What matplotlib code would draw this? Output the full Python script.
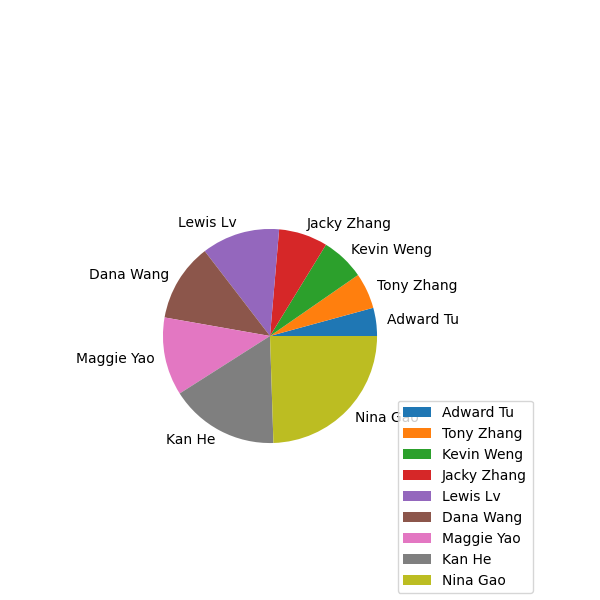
import matplotlib
matplotlib.use('Agg')
import matplotlib.pyplot as plt

names = ['Adward Tu', 'Tony Zhang', 'Kevin Weng', 'Jacky Zhang', 'Lewis Lv',
         'Dana Wang', 'Maggie Yao', 'Kan He', 'Nina Gao']
shares = [4.25, 5.4, 6.6, 7.4, 11.8, 11.8, 11.8, 16.5, 24.5]

fig = plt.figure(figsize=(6, 6), dpi=100)
ax = fig.add_axes([0.227, 0.217, 0.446, 0.446])
wedges, texts = ax.pie(shares, labels=names)
ax.set_aspect('equal')
ax.set_xlim(-1.25, 1.25)
ax.set_ylim(-1.25, 1.25)

fig.legend(wedges, names, loc='upper left', bbox_to_anchor=(0.651, 0.344),
           bbox_transform=fig.transFigure)

fig.savefig('out.png')
